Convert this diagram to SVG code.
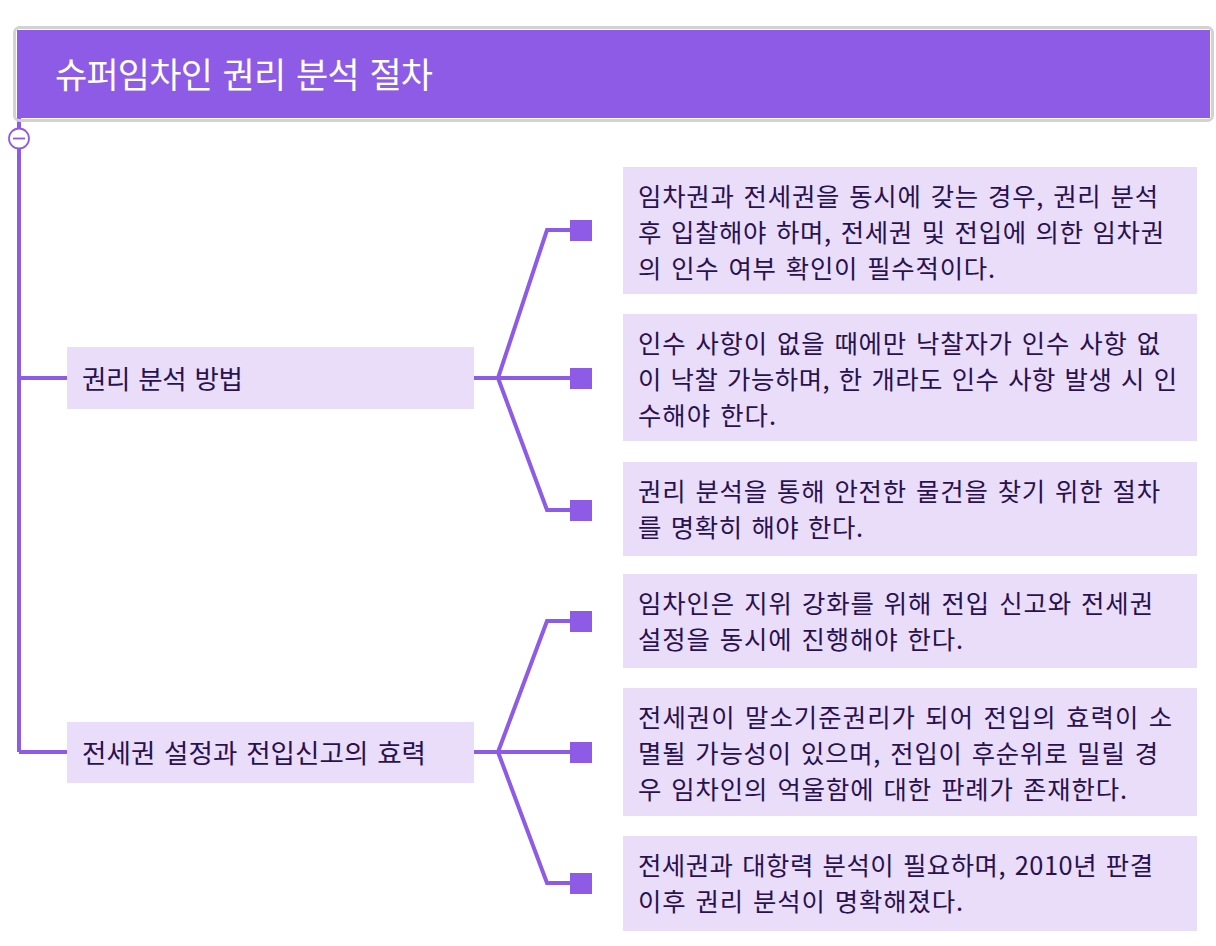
<svg xmlns="http://www.w3.org/2000/svg" width="1216" height="946" viewBox="0 0 1216 946">
<style>
.t{font-family:"Noto Sans CJK KR","Noto Sans",sans-serif;word-spacing:0.1em}
.title{font-size:35px;fill:#ffffff}
.nt{font-size:26.5px;fill:#2a1150}
.bt{font-size:25.4px;fill:#2a1150}
.box{fill:#e9ddfa}
.ln{fill:none;stroke:#8e5be6;stroke-width:4;stroke-linejoin:miter}
.sq{fill:#8e5be6}
</style>
<rect width="1216" height="946" fill="#ffffff"/>
<g id="connectors">
<path class="ln" d="M19 118 V128 M19 149 V752 M19 378 H67 M19 752 H67"/>
<circle cx="19" cy="138.5" r="10" fill="#ffffff" stroke="#8e5be6" stroke-width="1.8"/>
<path d="M13 138.5 H25" stroke="#8e5be6" stroke-width="1.8"/>
<path class="ln" d="M474 378 H498 M498 378 L547 230 H572 M498 378 H572 M498 378 L547 510 H572"/>
<path class="ln" d="M474 752 H498 M498 752 L547 621 H572 M498 752 H572 M498 752 L547 883 H572"/>
<rect class="sq" x="570" y="220" width="22" height="21"/>
<rect class="sq" x="570" y="368" width="22" height="21"/>
<rect class="sq" x="570" y="500" width="22" height="21"/>
<rect class="sq" x="570" y="611" width="22" height="21"/>
<rect class="sq" x="570" y="742" width="22" height="21"/>
<rect class="sq" x="570" y="873" width="22" height="21"/>
</g>
<g id="root">
<rect x="14.5" y="27.5" width="1198" height="93" rx="5" fill="none" stroke="#d2d2d2" stroke-width="3"/>
<rect x="17" y="30" width="1193" height="88" fill="#8e5be6"/>
<text class="t title" x="55" y="88" textLength="378" lengthAdjust="spacing">슈퍼임차인 권리 분석 절차</text>
</g>
<g id="node-method">
<rect class="box" x="67" y="347" width="407" height="62"/>
<text class="t nt" x="82" y="389" textLength="161" lengthAdjust="spacing">권리 분석 방법</text>
</g>
<g id="node-effect">
<rect class="box" x="67" y="722" width="407" height="61"/>
<text class="t nt" x="82" y="763" textLength="344" lengthAdjust="spacing">전세권 설정과 전입신고의 효력</text>
</g>
<g id="leaf-1">
<rect class="box" x="623" y="167" width="574" height="127"/>
<text class="t bt" x="638" y="206" textLength="520" lengthAdjust="spacing">임차권과 전세권을 동시에 갖는 경우, 권리 분석</text>
<text class="t bt" x="638" y="242" textLength="526" lengthAdjust="spacing">후 입찰해야 하며, 전세권 및 전입에 의한 임차권</text>
<text class="t bt" x="638" y="278" textLength="357" lengthAdjust="spacing">의 인수 여부 확인이 필수적이다.</text>
</g>
<g id="leaf-2">
<rect class="box" x="623" y="314" width="574" height="127"/>
<text class="t bt" x="638" y="353" textLength="522" lengthAdjust="spacing">인수 사항이 없을 때에만 낙찰자가 인수 사항 없</text>
<text class="t bt" x="638" y="389" textLength="539" lengthAdjust="spacing">이 낙찰 가능하며, 한 개라도 인수 사항 발생 시 인</text>
<text class="t bt" x="638" y="425" textLength="138" lengthAdjust="spacing">수해야 한다.</text>
</g>
<g id="leaf-3">
<rect class="box" x="623" y="462" width="574" height="94"/>
<text class="t bt" x="638" y="501" textLength="522" lengthAdjust="spacing">권리 분석을 통해 안전한 물건을 찾기 위한 절차</text>
<text class="t bt" x="638" y="537" textLength="225" lengthAdjust="spacing">를 명확히 해야 한다.</text>
</g>
<g id="leaf-4">
<rect class="box" x="623" y="574" width="574" height="94"/>
<text class="t bt" x="638" y="613" textLength="515" lengthAdjust="spacing">임차인은 지위 강화를 위해 전입 신고와 전세권</text>
<text class="t bt" x="638" y="649" textLength="325" lengthAdjust="spacing">설정을 동시에 진행해야 한다.</text>
</g>
<g id="leaf-5">
<rect class="box" x="623" y="688" width="574" height="128"/>
<text class="t bt" x="638" y="727" textLength="534" lengthAdjust="spacing">전세권이 말소기준권리가 되어 전입의 효력이 소</text>
<text class="t bt" x="638" y="763" textLength="520" lengthAdjust="spacing">멸될 가능성이 있으며, 전입이 후순위로 밀릴 경</text>
<text class="t bt" x="638" y="799" textLength="489" lengthAdjust="spacing">우 임차인의 억울함에 대한 판례가 존재한다.</text>
</g>
<g id="leaf-6">
<rect class="box" x="623" y="836" width="574" height="95"/>
<text class="t bt" x="638" y="875" textLength="515" lengthAdjust="spacing">전세권과 대항력 분석이 필요하며, 2010년 판결</text>
<text class="t bt" x="638" y="911" textLength="325" lengthAdjust="spacing">이후 권리 분석이 명확해졌다.</text>
</g>
</svg>
